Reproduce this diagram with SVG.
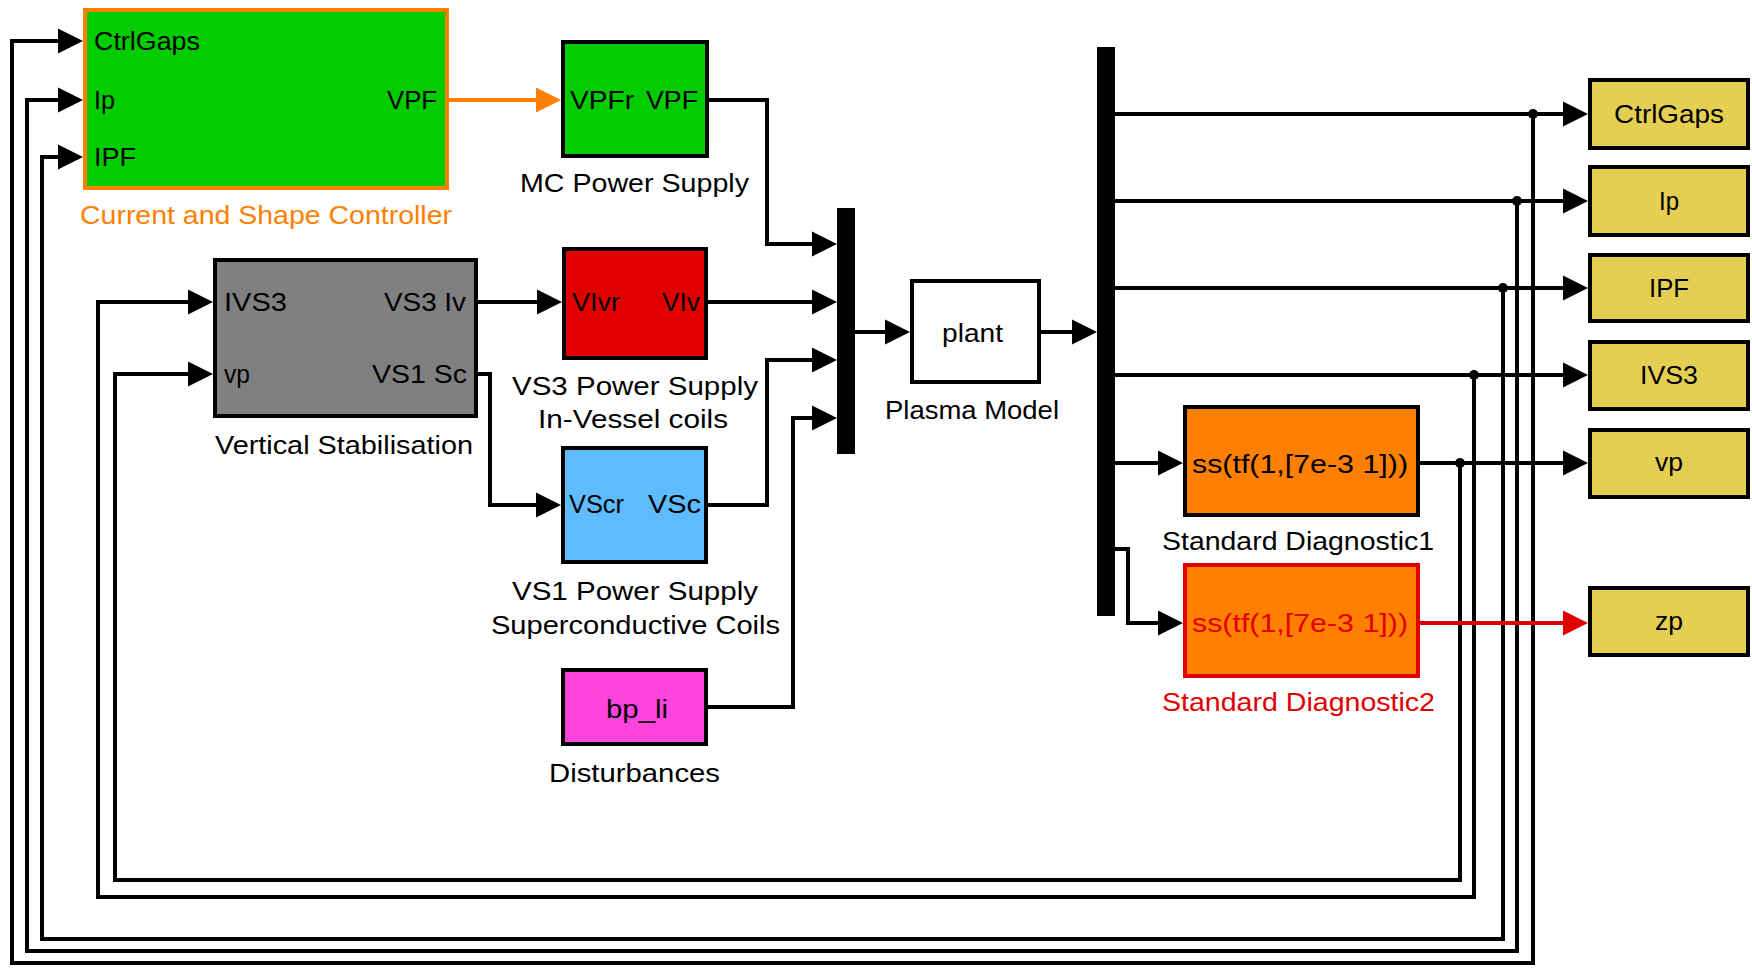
<svg xmlns="http://www.w3.org/2000/svg" width="1752" height="968" viewBox="0 0 1752 968">
<style>
text{font-family:"Liberation Sans",Arial,sans-serif;font-size:25px;fill:#000}
.blk{stroke:#000;stroke-width:4}
.ln{fill:none;stroke:#000;stroke-width:4;stroke-linejoin:miter}
.lbl{fill:#000}
.mid{text-anchor:middle}
.end{text-anchor:end}
.out{fill:#E5CF52;stroke:#000;stroke-width:4}
</style>
<defs>
<marker id="ah" markerUnits="userSpaceOnUse" markerWidth="26" markerHeight="26" refX="0" refY="12.5" orient="auto" overflow="visible">
<path d="M0,0 L25,12.5 L0,25 z" fill="#000"/>
</marker>
<marker id="ahO" markerUnits="userSpaceOnUse" markerWidth="26" markerHeight="26" refX="0" refY="12.5" orient="auto" overflow="visible">
<path d="M0,0 L25,12.5 L0,25 z" fill="#FF8000"/>
</marker>
<marker id="ahR" markerUnits="userSpaceOnUse" markerWidth="26" markerHeight="26" refX="0" refY="12.5" orient="auto" overflow="visible">
<path d="M0,0 L25,12.5 L0,25 z" fill="#E00000"/>
</marker>
</defs>
<rect width="1752" height="968" fill="#fff"/>

<g id="connectors">
<path class="ln" d="M1533,114 V963 H12 V41 H58" marker-end="url(#ah)"/>
<path class="ln" d="M1517,201 V951 H27 V100 H58" marker-end="url(#ah)"/>
<path class="ln" d="M1503,288 V939 H42 V157 H58" marker-end="url(#ah)"/>
<path class="ln" d="M1474,375 V897 H98 V302 H188" marker-end="url(#ah)"/>
<path class="ln" d="M1460,463 V880 H115 V374 H188" marker-end="url(#ah)"/>
<path class="ln" d="M449,100 H536" stroke="#FF8000" style="stroke:#FF8000" marker-end="url(#ahO)"/>
<path class="ln" d="M709,100 H767 V244 H812" marker-end="url(#ah)"/>
<path class="ln" d="M478,302 H537" marker-end="url(#ah)"/>
<path class="ln" d="M708,302 H812" marker-end="url(#ah)"/>
<path class="ln" d="M478,374 H490 V505 H536" marker-end="url(#ah)"/>
<path class="ln" d="M708,505 H767 V360 H812" marker-end="url(#ah)"/>
<path class="ln" d="M708,707 H793 V418 H812" marker-end="url(#ah)"/>
<path class="ln" d="M855,332 H885" marker-end="url(#ah)"/>
<path class="ln" d="M1041,332 H1072" marker-end="url(#ah)"/>
<path class="ln" d="M1115,114 H1563" marker-end="url(#ah)"/>
<path class="ln" d="M1115,201 H1563" marker-end="url(#ah)"/>
<path class="ln" d="M1115,288 H1563" marker-end="url(#ah)"/>
<path class="ln" d="M1115,375 H1563" marker-end="url(#ah)"/>
<path class="ln" d="M1115,463 H1158" marker-end="url(#ah)"/>
<path class="ln" d="M1420,463 H1563" marker-end="url(#ah)"/>
<path class="ln" d="M1115,549 H1128 V623 H1158" marker-end="url(#ah)"/>
<path class="ln" d="M1420,623 H1563" style="stroke:#E00000" marker-end="url(#ahR)"/>
<circle cx="1533" cy="114" r="5" fill="#000"/>
<circle cx="1517" cy="201" r="5" fill="#000"/>
<circle cx="1503" cy="288" r="5" fill="#000"/>
<circle cx="1474" cy="375" r="5" fill="#000"/>
<circle cx="1460" cy="463" r="5" fill="#000"/>
</g>

<g id="csc">
<rect x="85" y="10" width="362" height="178" fill="#00CC00" stroke="#FF8000" stroke-width="4"/>
<text x="94" y="50" textLength="106" lengthAdjust="spacingAndGlyphs">CtrlGaps</text>
<text x="94" y="109" textLength="21" lengthAdjust="spacingAndGlyphs">Ip</text>
<text x="94" y="166" textLength="42" lengthAdjust="spacingAndGlyphs">IPF</text>
<text x="437" y="109" class="end" textLength="50" lengthAdjust="spacingAndGlyphs">VPF</text>
<text x="80" y="224" textLength="372" lengthAdjust="spacingAndGlyphs" style="fill:#FF8000">Current and Shape Controller</text>
</g>

<g id="mcps">
<rect class="blk" x="563" y="42" width="144" height="114" fill="#00CC00"/>
<text x="570" y="109" textLength="64" lengthAdjust="spacingAndGlyphs">VPFr</text>
<text x="698" y="109" class="end" textLength="52" lengthAdjust="spacingAndGlyphs">VPF</text>
<text x="520" y="192" textLength="229" lengthAdjust="spacingAndGlyphs">MC Power Supply</text>
</g>

<g id="vs">
<rect class="blk" x="215" y="260" width="261" height="156" fill="#808080"/>
<text x="224" y="311" textLength="63" lengthAdjust="spacingAndGlyphs">IVS3</text>
<text x="466" y="311" class="end" textLength="82" lengthAdjust="spacingAndGlyphs">VS3 Iv</text>
<text x="224" y="383" textLength="26" lengthAdjust="spacingAndGlyphs">vp</text>
<text x="467" y="383" class="end" textLength="95" lengthAdjust="spacingAndGlyphs">VS1 Sc</text>
<text x="215" y="454" textLength="258" lengthAdjust="spacingAndGlyphs">Vertical Stabilisation</text>
</g>

<g id="vs3ps">
<rect class="blk" x="564" y="249" width="142" height="109" fill="#E00000"/>
<text x="572" y="311" textLength="48" lengthAdjust="spacingAndGlyphs">VIvr</text>
<text x="700" y="311" class="end" textLength="38" lengthAdjust="spacingAndGlyphs">VIv</text>
<text x="512" y="395" textLength="246" lengthAdjust="spacingAndGlyphs">VS3 Power Supply</text>
<text x="538" y="428" textLength="190" lengthAdjust="spacingAndGlyphs">In-Vessel coils</text>
</g>

<g id="vs1ps">
<rect class="blk" x="563" y="448" width="143" height="114" fill="#5EBBFF"/>
<text x="569" y="513" textLength="55" lengthAdjust="spacingAndGlyphs">VScr</text>
<text x="701" y="513" class="end" textLength="53" lengthAdjust="spacingAndGlyphs">VSc</text>
<text x="512" y="600" textLength="246" lengthAdjust="spacingAndGlyphs">VS1 Power Supply</text>
<text x="491" y="634" textLength="289" lengthAdjust="spacingAndGlyphs">Superconductive Coils</text>
</g>

<g id="dist">
<rect class="blk" x="563" y="670" width="143" height="74" fill="#FF44DD"/>
<text x="606" y="718" textLength="62" lengthAdjust="spacingAndGlyphs">bp_li</text>
<text x="549" y="782" textLength="171" lengthAdjust="spacingAndGlyphs">Disturbances</text>
</g>

<g id="mux">
<rect x="837" y="208" width="18" height="246" fill="#000"/>
</g>

<g id="plant">
<rect class="blk" x="912" y="281" width="127" height="101" fill="#fff"/>
<text x="942" y="342" textLength="61" lengthAdjust="spacingAndGlyphs">plant</text>
<text x="885" y="419" textLength="174" lengthAdjust="spacingAndGlyphs">Plasma Model</text>
</g>

<g id="demux">
<rect x="1097" y="47" width="18" height="569" fill="#000"/>
</g>

<g id="diag1">
<rect class="blk" x="1185" y="407" width="233" height="108" fill="#FF8000"/>
<text x="1192" y="473" textLength="216" lengthAdjust="spacingAndGlyphs">ss(tf(1,[7e-3 1]))</text>
<text x="1162" y="550" textLength="272" lengthAdjust="spacingAndGlyphs">Standard Diagnostic1</text>
</g>

<g id="diag2">
<rect x="1185" y="565" width="233" height="111" fill="#FF8000" stroke="#E00000" stroke-width="4"/>
<text x="1192" y="632" textLength="216" lengthAdjust="spacingAndGlyphs" style="fill:#E00000">ss(tf(1,[7e-3 1]))</text>
<text x="1162" y="711" textLength="273" lengthAdjust="spacingAndGlyphs" style="fill:#E00000">Standard Diagnostic2</text>
</g>

<g id="out_ctrlgaps">
<rect class="out" x="1590" y="80" width="158" height="68"/>
<text x="1669" y="123" class="mid" textLength="110" lengthAdjust="spacingAndGlyphs">CtrlGaps</text>
</g>
<g id="out_ip">
<rect class="out" x="1590" y="167" width="158" height="68"/>
<text x="1669" y="210" class="mid" textLength="20" lengthAdjust="spacingAndGlyphs">Ip</text>
</g>
<g id="out_ipf">
<rect class="out" x="1590" y="255" width="158" height="66"/>
<text x="1669" y="297" class="mid" textLength="40" lengthAdjust="spacingAndGlyphs">IPF</text>
</g>
<g id="out_ivs3">
<rect class="out" x="1590" y="342" width="158" height="67"/>
<text x="1669" y="384" class="mid" textLength="58" lengthAdjust="spacingAndGlyphs">IVS3</text>
</g>
<g id="out_vp">
<rect class="out" x="1590" y="430" width="158" height="67"/>
<text x="1669" y="471" class="mid" textLength="28" lengthAdjust="spacingAndGlyphs">vp</text>
</g>
<g id="out_zp">
<rect class="out" x="1590" y="588" width="158" height="67"/>
<text x="1669" y="630" class="mid" textLength="28" lengthAdjust="spacingAndGlyphs">zp</text>
</g>
</svg>
